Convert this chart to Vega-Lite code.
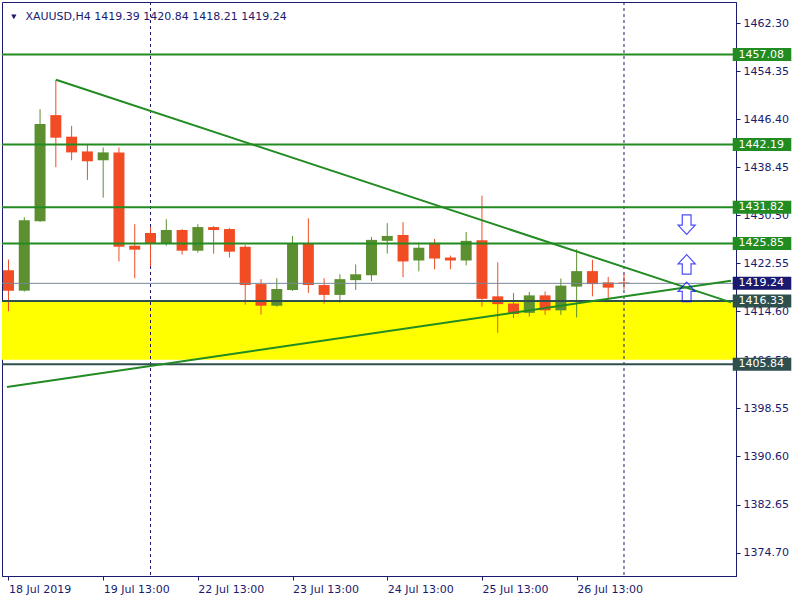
{
  "$schema": "https://vega.github.io/schema/vega-lite/v6.json",
  "width": 734,
  "height": 574,
  "autosize": {"type": "none"},
  "padding": {"left": 2, "top": 2, "right": 64, "bottom": 24},
  "background": "white",
  "config": {
    "view": {"stroke": "#1a1a6e", "strokeWidth": 1},
    "font": "DejaVu Sans",
    "axis": {
      "labelFont": "DejaVu Sans",
      "labelFontSize": 11,
      "labelColor": "#1a1a6e",
      "labelOverlap": false,
      "labelFlush": false,
      "labelBound": false,
      "labelPadding": 3,
      "tickSize": 4,
      "tickColor": "#1a1a6e",
      "domainColor": "#1a1a6e",
      "grid": false,
      "title": null
    }
  },
  "datasets": {
    "candles": [
      {"k": 0, "o": 1421.39, "h": 1423.18, "l": 1414.62, "c": 1418.03, "d": "down"},
      {"k": 1, "o": 1418.03, "h": 1430.17, "l": 1417.87, "c": 1429.68, "d": "up"},
      {"k": 2, "o": 1429.52, "h": 1448.05, "l": 1429.40, "c": 1445.61, "d": "up"},
      {"k": 3, "o": 1447.07, "h": 1452.92, "l": 1438.46, "c": 1443.33, "d": "down"},
      {"k": 4, "o": 1443.50, "h": 1445.28, "l": 1439.60, "c": 1440.90, "d": "down"},
      {"k": 5, "o": 1441.06, "h": 1442.20, "l": 1436.35, "c": 1439.43, "d": "down"},
      {"k": 6, "o": 1439.60, "h": 1441.71, "l": 1433.42, "c": 1440.90, "d": "up"},
      {"k": 7, "o": 1440.90, "h": 1441.71, "l": 1422.86, "c": 1425.29, "d": "down"},
      {"k": 8, "o": 1425.46, "h": 1429.03, "l": 1420.09, "c": 1424.81, "d": "down"},
      {"k": 9, "o": 1427.57, "h": 1428.55, "l": 1422.04, "c": 1425.78, "d": "down"},
      {"k": 10, "o": 1425.78, "h": 1429.84, "l": 1425.46, "c": 1428.06, "d": "up"},
      {"k": 11, "o": 1428.06, "h": 1428.22, "l": 1423.99, "c": 1424.64, "d": "down"},
      {"k": 12, "o": 1424.64, "h": 1429.03, "l": 1424.32, "c": 1428.55, "d": "up"},
      {"k": 13, "o": 1428.55, "h": 1428.71, "l": 1424.15, "c": 1428.06, "d": "down"},
      {"k": 14, "o": 1428.22, "h": 1428.38, "l": 1423.50, "c": 1424.48, "d": "down"},
      {"k": 15, "o": 1425.29, "h": 1425.62, "l": 1415.71, "c": 1418.96, "d": "down"},
      {"k": 16, "o": 1419.12, "h": 1419.93, "l": 1414.08, "c": 1415.54, "d": "down"},
      {"k": 17, "o": 1415.54, "h": 1420.09, "l": 1415.38, "c": 1418.31, "d": "up"},
      {"k": 18, "o": 1418.14, "h": 1427.08, "l": 1417.98, "c": 1425.78, "d": "up"},
      {"k": 19, "o": 1425.78, "h": 1430.00, "l": 1417.66, "c": 1418.96, "d": "down"},
      {"k": 20, "o": 1418.96, "h": 1420.09, "l": 1415.87, "c": 1417.33, "d": "down"},
      {"k": 21, "o": 1417.33, "h": 1420.74, "l": 1416.03, "c": 1419.93, "d": "up"},
      {"k": 22, "o": 1419.77, "h": 1422.37, "l": 1418.14, "c": 1420.74, "d": "up"},
      {"k": 23, "o": 1420.58, "h": 1426.92, "l": 1419.61, "c": 1426.43, "d": "up"},
      {"k": 24, "o": 1426.27, "h": 1429.19, "l": 1424.16, "c": 1427.08, "d": "up"},
      {"k": 25, "o": 1427.24, "h": 1429.36, "l": 1420.26, "c": 1422.86, "d": "down"},
      {"k": 26, "o": 1423.02, "h": 1425.94, "l": 1421.23, "c": 1425.13, "d": "up"},
      {"k": 27, "o": 1425.94, "h": 1426.59, "l": 1421.56, "c": 1423.34, "d": "down"},
      {"k": 28, "o": 1423.51, "h": 1423.83, "l": 1421.56, "c": 1423.02, "d": "down"},
      {"k": 29, "o": 1423.02, "h": 1427.73, "l": 1422.21, "c": 1426.27, "d": "up"},
      {"k": 30, "o": 1426.37, "h": 1433.75, "l": 1415.38, "c": 1416.68, "d": "down"},
      {"k": 31, "o": 1417.09, "h": 1422.73, "l": 1411.07, "c": 1415.80, "d": "down"},
      {"k": 32, "o": 1415.90, "h": 1417.67, "l": 1413.50, "c": 1414.19, "d": "down"},
      {"k": 33, "o": 1414.36, "h": 1417.82, "l": 1413.76, "c": 1417.25, "d": "up"},
      {"k": 34, "o": 1417.25, "h": 1417.90, "l": 1414.03, "c": 1414.78, "d": "down"},
      {"k": 35, "o": 1414.78, "h": 1420.04, "l": 1414.03, "c": 1418.86, "d": "up"},
      {"k": 36, "o": 1418.70, "h": 1424.87, "l": 1413.59, "c": 1421.26, "d": "up"},
      {"k": 37, "o": 1421.26, "h": 1423.15, "l": 1417.09, "c": 1419.12, "d": "down"},
      {"k": 38, "o": 1419.40, "h": 1420.30, "l": 1416.29, "c": 1418.53, "d": "down"},
      {"k": 39, "o": 1419.39, "h": 1420.84, "l": 1418.21, "c": 1419.24, "d": "down"}
    ],
    "levels": [
      {"price": 1457.08, "kind": "res"},
      {"price": 1442.19, "kind": "res"},
      {"price": 1431.82, "kind": "res"},
      {"price": 1425.85, "kind": "res"},
      {"price": 1416.33, "kind": "sup"},
      {"price": 1405.84, "kind": "sup"}
    ],
    "tags": [
      {"price": 1457.08, "kind": "res", "label": "1457.08", "k": 45.89, "k2": 49.6, "kt": 46.26},
      {"price": 1442.19, "kind": "res", "label": "1442.19", "k": 45.89, "k2": 49.6, "kt": 46.26},
      {"price": 1431.82, "kind": "res", "label": "1431.82", "k": 45.89, "k2": 49.6, "kt": 46.26},
      {"price": 1425.85, "kind": "res", "label": "1425.85", "k": 45.89, "k2": 49.6, "kt": 46.26},
      {"price": 1419.24, "kind": "bid", "label": "1419.24", "k": 45.89, "k2": 49.6, "kt": 46.26},
      {"price": 1416.33, "kind": "sup", "label": "1416.33", "k": 45.89, "k2": 49.6, "kt": 46.26},
      {"price": 1405.84, "kind": "sup", "label": "1405.84", "k": 45.89, "k2": 49.6, "kt": 46.26}
    ],
    "trend": [
      {"line": "down", "k": 3.01, "p": 1452.92},
      {"line": "down", "k": 45.78, "p": 1416.09},
      {"line": "up", "k": -0.094, "p": 1402.10},
      {"line": "up", "k": 45.78, "p": 1419.66}
    ],
    "arrows": [
      {"k": 42.97, "p": 1428.95, "dir": "down"},
      {"k": 42.97, "p": 1422.37, "dir": "up"},
      {"k": 42.97, "p": 1417.82, "dir": "up"}
    ]
  },
  "layer": [
    {
      "data": {"values": [{"top": 1416.33, "bottom": 1406.6, "k": -1, "k2": 47}]},
      "mark": {"type": "rect", "color": "#ffff00", "clip": true},
      "encoding": {
        "x": {"field": "k", "type": "quantitative", "scale": {"domain": [-0.094, 45.78], "nice": false, "zero": false},
          "axis": {"orient": "bottom", "values": [0, 6, 12, 18, 24, 30, 36], "labelExpr": "['18 Jul 2019','19 Jul 13:00','22 Jul 13:00','23 Jul 13:00','24 Jul 13:00','25 Jul 13:00','26 Jul 13:00'][round(datum.value/6)]", "labelAlign": "left", "labelBaseline": "top"}},
        "x2": {"field": "k2"},
        "y": {"field": "top", "type": "quantitative", "scale": {"domain": [1371.66, 1464.95], "nice": false, "zero": false},
          "axis": {"orient": "right", "values": [1462.30, 1454.35, 1446.40, 1438.45, 1430.50, 1422.55, 1414.60, 1406.50, 1398.55, 1390.60, 1382.65, 1374.70], "format": ".2f"}},
        "y2": {"field": "bottom"}
      }
    },
    {
      "data": {"values": [{"k": 9}, {"k": 39}]},
      "mark": {"type": "rule", "color": "#1a1a6e", "strokeDash": [3, 3], "strokeWidth": 1},
      "encoding": {
        "x": {"field": "k", "type": "quantitative", "scale": {"domain": [-0.094, 45.78], "nice": false, "zero": false},
          "axis": {"orient": "bottom", "values": [0, 6, 12, 18, 24, 30, 36], "labelExpr": "['18 Jul 2019','19 Jul 13:00','22 Jul 13:00','23 Jul 13:00','24 Jul 13:00','25 Jul 13:00','26 Jul 13:00'][round(datum.value/6)]", "labelAlign": "left", "labelBaseline": "top"}}
      }
    },
    {
      "data": {"name": "candles"},
      "mark": {"type": "rule", "strokeWidth": 1, "clip": true},
      "encoding": {
        "x": {"field": "k", "type": "quantitative", "scale": {"domain": [-0.094, 45.78], "nice": false, "zero": false},
          "axis": {"orient": "bottom", "values": [0, 6, 12, 18, 24, 30, 36], "labelExpr": "['18 Jul 2019','19 Jul 13:00','22 Jul 13:00','23 Jul 13:00','24 Jul 13:00','25 Jul 13:00','26 Jul 13:00'][round(datum.value/6)]", "labelAlign": "left", "labelBaseline": "top"}},
        "y": {"field": "l", "type": "quantitative", "scale": {"domain": [1371.66, 1464.95], "nice": false, "zero": false},
          "axis": {"orient": "right", "values": [1462.30, 1454.35, 1446.40, 1438.45, 1430.50, 1422.55, 1414.60, 1406.50, 1398.55, 1390.60, 1382.65, 1374.70], "format": ".2f"}},
        "y2": {"field": "h"},
        "color": {"field": "d", "type": "nominal", "scale": {"domain": ["up", "down", "res", "sup", "bid"], "range": ["#5b8f2f", "#f24c24", "#228b22", "#2f4f4f", "#191970"]}, "legend": null}
      }
    },
    {
      "data": {"name": "candles"},
      "mark": {"type": "bar", "size": 11, "orient": "vertical", "clip": true},
      "encoding": {
        "x": {"field": "k", "type": "quantitative", "scale": {"domain": [-0.094, 45.78], "nice": false, "zero": false},
          "axis": {"orient": "bottom", "values": [0, 6, 12, 18, 24, 30, 36], "labelExpr": "['18 Jul 2019','19 Jul 13:00','22 Jul 13:00','23 Jul 13:00','24 Jul 13:00','25 Jul 13:00','26 Jul 13:00'][round(datum.value/6)]", "labelAlign": "left", "labelBaseline": "top"}},
        "y": {"field": "o", "type": "quantitative", "scale": {"domain": [1371.66, 1464.95], "nice": false, "zero": false},
          "axis": {"orient": "right", "values": [1462.30, 1454.35, 1446.40, 1438.45, 1430.50, 1422.55, 1414.60, 1406.50, 1398.55, 1390.60, 1382.65, 1374.70], "format": ".2f"}},
        "y2": {"field": "c"},
        "color": {"field": "d", "type": "nominal", "scale": {"domain": ["up", "down", "res", "sup", "bid"], "range": ["#5b8f2f", "#f24c24", "#228b22", "#2f4f4f", "#191970"]}, "legend": null}
      }
    },
    {
      "data": {"values": [{"price": 1419.24}]},
      "mark": {"type": "rule", "color": "#778899", "strokeWidth": 1},
      "encoding": {
        "y": {"field": "price", "type": "quantitative", "scale": {"domain": [1371.66, 1464.95], "nice": false, "zero": false},
          "axis": {"orient": "right", "values": [1462.30, 1454.35, 1446.40, 1438.45, 1430.50, 1422.55, 1414.60, 1406.50, 1398.55, 1390.60, 1382.65, 1374.70], "format": ".2f"}}
      }
    },
    {
      "data": {"name": "levels"},
      "mark": {"type": "rule", "strokeWidth": 2},
      "encoding": {
        "y": {"field": "price", "type": "quantitative", "scale": {"domain": [1371.66, 1464.95], "nice": false, "zero": false},
          "axis": {"orient": "right", "values": [1462.30, 1454.35, 1446.40, 1438.45, 1430.50, 1422.55, 1414.60, 1406.50, 1398.55, 1390.60, 1382.65, 1374.70], "format": ".2f"}},
        "color": {"field": "kind", "type": "nominal", "scale": {"domain": ["up", "down", "res", "sup", "bid"], "range": ["#5b8f2f", "#f24c24", "#228b22", "#2f4f4f", "#191970"]}, "legend": null}
      }
    },
    {
      "data": {"name": "trend"},
      "mark": {"type": "line", "color": "#228b22", "strokeWidth": 2, "clip": true},
      "encoding": {
        "x": {"field": "k", "type": "quantitative", "scale": {"domain": [-0.094, 45.78], "nice": false, "zero": false},
          "axis": {"orient": "bottom", "values": [0, 6, 12, 18, 24, 30, 36], "labelExpr": "['18 Jul 2019','19 Jul 13:00','22 Jul 13:00','23 Jul 13:00','24 Jul 13:00','25 Jul 13:00','26 Jul 13:00'][round(datum.value/6)]", "labelAlign": "left", "labelBaseline": "top"}},
        "y": {"field": "p", "type": "quantitative", "scale": {"domain": [1371.66, 1464.95], "nice": false, "zero": false},
          "axis": {"orient": "right", "values": [1462.30, 1454.35, 1446.40, 1438.45, 1430.50, 1422.55, 1414.60, 1406.50, 1398.55, 1390.60, 1382.65, 1374.70], "format": ".2f"}},
        "detail": {"field": "line", "type": "nominal"}
      }
    },
    {
      "data": {"name": "arrows"},
      "mark": {"type": "point", "filled": false, "stroke": "#0000ff", "strokeWidth": 1.2, "size": 380},
      "encoding": {
        "x": {"field": "k", "type": "quantitative", "scale": {"domain": [-0.094, 45.78], "nice": false, "zero": false},
          "axis": {"orient": "bottom", "values": [0, 6, 12, 18, 24, 30, 36], "labelExpr": "['18 Jul 2019','19 Jul 13:00','22 Jul 13:00','23 Jul 13:00','24 Jul 13:00','25 Jul 13:00','26 Jul 13:00'][round(datum.value/6)]", "labelAlign": "left", "labelBaseline": "top"}},
        "y": {"field": "p", "type": "quantitative", "scale": {"domain": [1371.66, 1464.95], "nice": false, "zero": false},
          "axis": {"orient": "right", "values": [1462.30, 1454.35, 1446.40, 1438.45, 1430.50, 1422.55, 1414.60, 1406.50, 1398.55, 1390.60, 1382.65, 1374.70], "format": ".2f"}},
        "shape": {"field": "dir", "type": "nominal", "scale": {"domain": ["up", "down"], "range": ["M0,-1L0.88,-0.05L0.45,-0.05L0.45,1L-0.45,1L-0.45,-0.05L-0.88,-0.05Z", "M0,1L0.88,0.05L0.45,0.05L0.45,-1L-0.45,-1L-0.45,0.05L-0.88,0.05Z"]}, "legend": null}
      }
    },
    {
      "data": {"name": "tags"},
      "mark": {"type": "bar", "orient": "horizontal", "size": 13, "clip": false},
      "encoding": {
        "x": {"field": "k", "type": "quantitative", "scale": {"domain": [-0.094, 45.78], "nice": false, "zero": false},
          "axis": {"orient": "bottom", "values": [0, 6, 12, 18, 24, 30, 36], "labelExpr": "['18 Jul 2019','19 Jul 13:00','22 Jul 13:00','23 Jul 13:00','24 Jul 13:00','25 Jul 13:00','26 Jul 13:00'][round(datum.value/6)]", "labelAlign": "left", "labelBaseline": "top"}},
        "x2": {"field": "k2"},
        "y": {"field": "price", "type": "quantitative", "scale": {"domain": [1371.66, 1464.95], "nice": false, "zero": false},
          "axis": {"orient": "right", "values": [1462.30, 1454.35, 1446.40, 1438.45, 1430.50, 1422.55, 1414.60, 1406.50, 1398.55, 1390.60, 1382.65, 1374.70], "format": ".2f"}},
        "color": {"field": "kind", "type": "nominal", "scale": {"domain": ["up", "down", "res", "sup", "bid"], "range": ["#5b8f2f", "#f24c24", "#228b22", "#2f4f4f", "#191970"]}, "legend": null}
      }
    },
    {
      "data": {"name": "tags"},
      "mark": {"type": "text", "align": "left", "baseline": "middle", "color": "white", "font": "DejaVu Sans", "fontSize": 11, "clip": false},
      "encoding": {
        "x": {"field": "kt", "type": "quantitative", "scale": {"domain": [-0.094, 45.78], "nice": false, "zero": false},
          "axis": {"orient": "bottom", "values": [0, 6, 12, 18, 24, 30, 36], "labelExpr": "['18 Jul 2019','19 Jul 13:00','22 Jul 13:00','23 Jul 13:00','24 Jul 13:00','25 Jul 13:00','26 Jul 13:00'][round(datum.value/6)]", "labelAlign": "left", "labelBaseline": "top"}},
        "y": {"field": "price", "type": "quantitative", "scale": {"domain": [1371.66, 1464.95], "nice": false, "zero": false},
          "axis": {"orient": "right", "values": [1462.30, 1454.35, 1446.40, 1438.45, 1430.50, 1422.55, 1414.60, 1406.50, 1398.55, 1390.60, 1382.65, 1374.70], "format": ".2f"}},
        "text": {"field": "label"}
      }
    },
    {
      "data": {"values": [{"k": 0.34, "p": 1463.32}]},
      "mark": {"type": "point", "shape": "triangle-down", "filled": true, "color": "#1a1a6e", "size": 28, "opacity": 1},
      "encoding": {
        "x": {"field": "k", "type": "quantitative", "scale": {"domain": [-0.094, 45.78], "nice": false, "zero": false},
          "axis": {"orient": "bottom", "values": [0, 6, 12, 18, 24, 30, 36], "labelExpr": "['18 Jul 2019','19 Jul 13:00','22 Jul 13:00','23 Jul 13:00','24 Jul 13:00','25 Jul 13:00','26 Jul 13:00'][round(datum.value/6)]", "labelAlign": "left", "labelBaseline": "top"}},
        "y": {"field": "p", "type": "quantitative", "scale": {"domain": [1371.66, 1464.95], "nice": false, "zero": false},
          "axis": {"orient": "right", "values": [1462.30, 1454.35, 1446.40, 1438.45, 1430.50, 1422.55, 1414.60, 1406.50, 1398.55, 1390.60, 1382.65, 1374.70], "format": ".2f"}}
      }
    },
    {
      "data": {"values": [{"k": 1.075, "p": 1463.24, "t": "XAUUSD,H4  1419.39 1420.84 1418.21 1419.24"}]},
      "mark": {"type": "text", "align": "left", "baseline": "middle", "color": "#1a1a6e", "font": "DejaVu Sans", "fontSize": 11},
      "encoding": {
        "x": {"field": "k", "type": "quantitative", "scale": {"domain": [-0.094, 45.78], "nice": false, "zero": false},
          "axis": {"orient": "bottom", "values": [0, 6, 12, 18, 24, 30, 36], "labelExpr": "['18 Jul 2019','19 Jul 13:00','22 Jul 13:00','23 Jul 13:00','24 Jul 13:00','25 Jul 13:00','26 Jul 13:00'][round(datum.value/6)]", "labelAlign": "left", "labelBaseline": "top"}},
        "y": {"field": "p", "type": "quantitative", "scale": {"domain": [1371.66, 1464.95], "nice": false, "zero": false},
          "axis": {"orient": "right", "values": [1462.30, 1454.35, 1446.40, 1438.45, 1430.50, 1422.55, 1414.60, 1406.50, 1398.55, 1390.60, 1382.65, 1374.70], "format": ".2f"}},
        "text": {"field": "t"}
      }
    }
  ]
}
